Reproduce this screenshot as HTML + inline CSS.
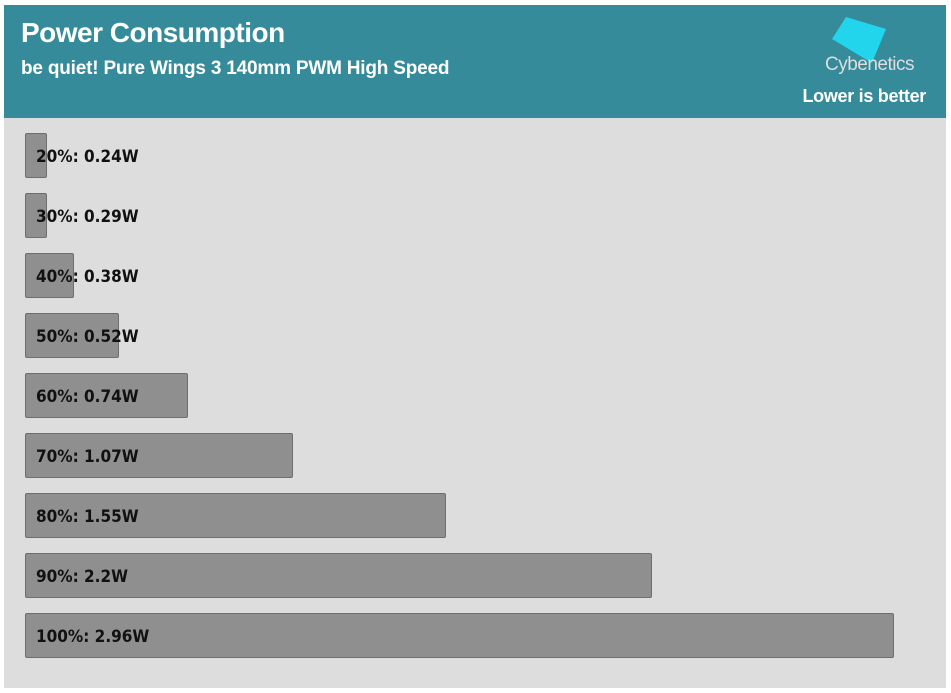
<!DOCTYPE html><html><head><style>
body{margin:0;width:951px;height:693px;background:#fff;position:relative;overflow:hidden;font-family:"Liberation Sans",sans-serif}
#p{position:absolute;left:4px;top:5px;width:942px;height:683px;background:#dddddd}
#h{position:absolute;left:0;top:0;width:942px;height:113px;background:#358b9a;color:#fff}
.b{position:absolute;left:21px;height:45px;background:#8f8f8f;border:1px solid #6e6e6e;border-radius:2px;box-sizing:border-box}
.t{position:absolute;left:32px;font:bold 17px "DejaVu Sans Condensed","Liberation Sans Narrow",sans-serif;color:#111;line-height:45px;margin-top:2px}
</style></head><body><div id="p"><div id="h">
<div style="position:absolute;left:17px;top:12px;font-weight:bold;font-size:28px;letter-spacing:-0.5px">Power Consumption</div>
<div style="position:absolute;left:17px;top:53px;font-weight:bold;font-size:19px;letter-spacing:-0.2px">be quiet! Pure Wings 3 140mm PWM High Speed</div>
<svg style="position:absolute;left:820px;top:6px" width="70" height="52"><polygon points="22,6 62,18 48,52 8,28" fill="#22d4ec"/></svg>
<div style="position:absolute;left:821px;top:49px;font-size:19px;color:#ddd;letter-spacing:-0.5px">Cybenetics</div>
<div style="position:absolute;right:20px;top:81px;font-weight:bold;font-size:18px;letter-spacing:-0.3px">Lower is better</div>
</div>
<div class="b" style="top:128px;width:22px"></div><div class="t" style="top:128px">20%: 0.24W</div>
<div class="b" style="top:188px;width:22px"></div><div class="t" style="top:188px">30%: 0.29W</div>
<div class="b" style="top:248px;width:49px"></div><div class="t" style="top:248px">40%: 0.38W</div>
<div class="b" style="top:308px;width:94px"></div><div class="t" style="top:308px">50%: 0.52W</div>
<div class="b" style="top:368px;width:163px"></div><div class="t" style="top:368px">60%: 0.74W</div>
<div class="b" style="top:428px;width:268px"></div><div class="t" style="top:428px">70%: 1.07W</div>
<div class="b" style="top:488px;width:421px"></div><div class="t" style="top:488px">80%: 1.55W</div>
<div class="b" style="top:548px;width:627px"></div><div class="t" style="top:548px">90%: 2.2W</div>
<div class="b" style="top:608px;width:869px"></div><div class="t" style="top:608px">100%: 2.96W</div>
</div></body></html>
